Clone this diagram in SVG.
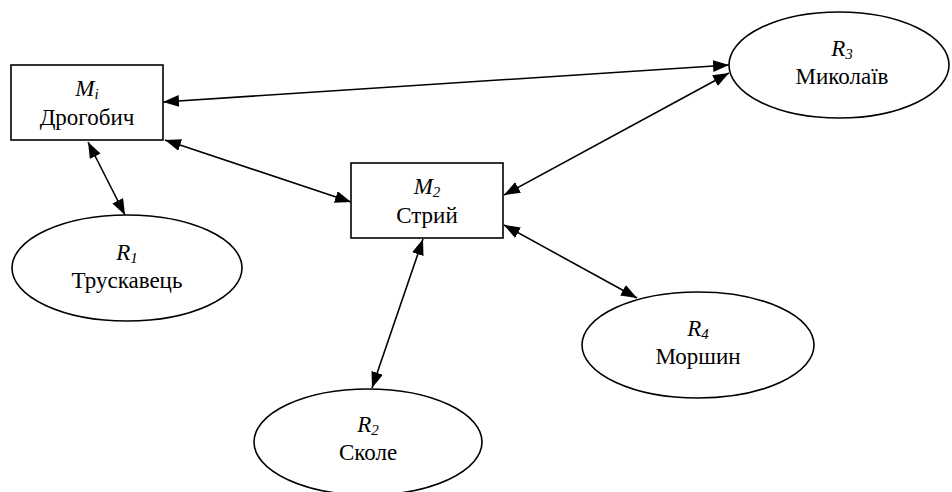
<svg xmlns="http://www.w3.org/2000/svg" width="952" height="492" viewBox="0 0 952 492">
<style>
.node{fill:#fff;stroke:#000;stroke-width:1.6}
text{font-family:'Liberation Serif','DejaVu Serif',serif;font-size:23px;fill:#000;text-anchor:middle}
.it{font-style:italic}
.sub{font-size:15px;font-style:italic}
.edge{stroke:#000;stroke-width:1.6;fill:none;marker-start:url(#ah);marker-end:url(#ah)}
</style>
<defs>
<marker id="ah" markerUnits="userSpaceOnUse" markerWidth="18" markerHeight="14" refX="16" refY="6" orient="auto-start-reverse">
<path d="M0,0 L16,6 L0,12 z" fill="#000"/>
</marker>
</defs>
<rect width="952" height="492" fill="#fff"/>
<g id="connectors">
<line class="edge" x1="163" y1="102" x2="729" y2="65"/>
<line class="edge" x1="165" y1="140" x2="351" y2="202"/>
<line class="edge" x1="88" y1="142" x2="125" y2="215"/>
<line class="edge" x1="504" y1="195" x2="729" y2="73"/>
<line class="edge" x1="423" y1="239" x2="372" y2="388"/>
<line class="edge" x1="504" y1="225" x2="637" y2="298"/>
</g>
<g id="Mi">
<rect class="node" x="11" y="65" width="152" height="75"/>
<text x="87" y="96"><tspan class="it">M</tspan><tspan class="sub" dy="3">i</tspan></text>
<text x="87" y="125">Дрогобич</text>
</g>
<g id="M2">
<rect class="node" x="351" y="163" width="152" height="75"/>
<text x="427" y="194"><tspan class="it">M</tspan><tspan class="sub" dy="3">2</tspan></text>
<text x="427" y="223">Стрий</text>
</g>
<g id="R1">
<ellipse class="node" cx="127" cy="268" rx="115" ry="53"/>
<text x="127" y="260"><tspan class="it">R</tspan><tspan class="sub" dy="3">1</tspan></text>
<text x="127" y="288">Трускавець</text>
</g>
<g id="R2">
<ellipse class="node" cx="368" cy="442" rx="114" ry="53"/>
<text x="368" y="432"><tspan class="it">R</tspan><tspan class="sub" dy="3">2</tspan></text>
<text x="368" y="460">Сколе</text>
</g>
<g id="R3">
<ellipse class="node" cx="839" cy="65" rx="110" ry="53"/>
<text x="842" y="56"><tspan class="it">R</tspan><tspan class="sub" dy="3">3</tspan></text>
<text x="842" y="84">Миколаїв</text>
</g>
<g id="R4">
<ellipse class="node" cx="698" cy="345" rx="116" ry="53"/>
<text x="698" y="336"><tspan class="it">R</tspan><tspan class="sub" dy="3">4</tspan></text>
<text x="698" y="364">Моршин</text>
</g>
</svg>
